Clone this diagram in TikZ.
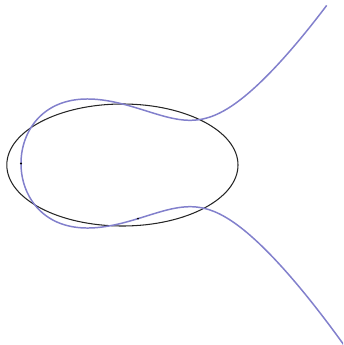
\documentclass[tikz,border=0pt]{standalone}
\usepackage{xcolor}
\definecolor{curveblue}{RGB}{130,128,204}

\begin{document}
\begin{tikzpicture}[x=0.02cm,y=-0.02cm]
    % 画布范围
    \useasboundingbox (0,0) rectangle (343,345);
    \clip (0,0) rectangle (343,345);

    % 定义点变量
    \coordinate (O) at (122.4,165);
    \coordinate (P) at (21,163.5);
    \coordinate (Q) at (138,218.6);

    % 椭圆
    \draw[black!85,line width=0.6pt] (O) ellipse [x radius=115.6, y radius=61];

    % 曲线 (以 s^2 为横坐标参数)
    \draw[curveblue,line width=0.85pt,domain=-1.8:1.749,samples=240,smooth,variable=\s]
        plot ({21+100*(\s)*(\s)},
              {163.5-100*(\s)*sqrt(0.4265*(\s)*(\s)*(\s)*(\s)-1.5072*(\s)*(\s)+1.4395)});

    % 标记点
    \fill (P) circle (0.6pt);
    \fill (Q) circle (0.6pt);

\end{tikzpicture}
\end{document}
